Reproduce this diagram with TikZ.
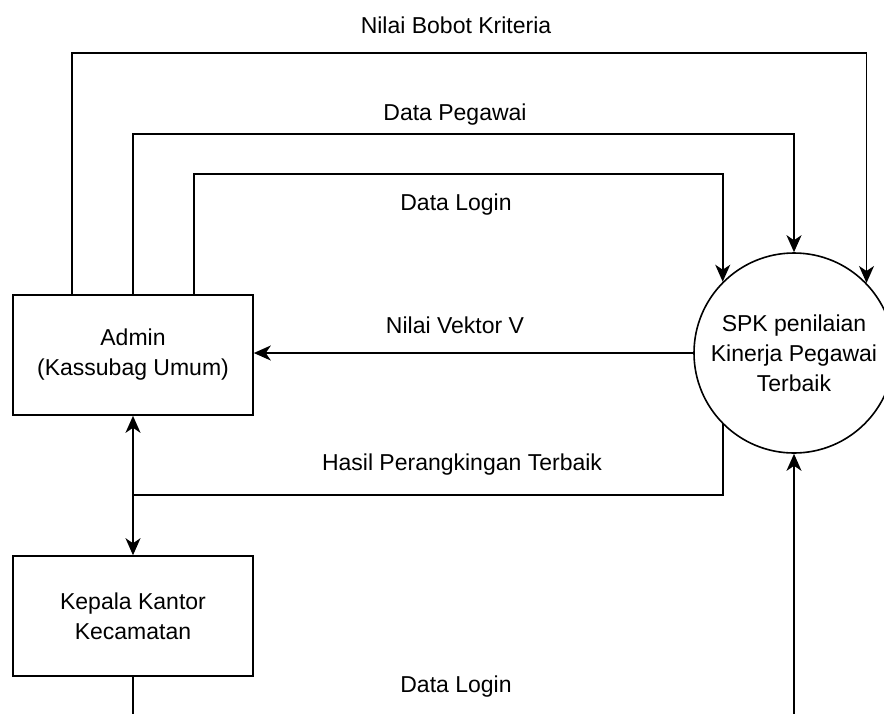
\documentclass[tikz,border=0pt]{standalone}
\usepackage{fontspec}
\setmainfont{Liberation Sans}
\usetikzlibrary{arrows.meta}
\begin{document}
\begin{tikzpicture}[x=1pt,y=-1pt,
  line width=1.6pt,
  every node/.style={font=\fontsize{23}{30}\selectfont},
  boxnode/.style={draw,rectangle,minimum width=240pt,minimum height=120pt,align=center,inner sep=0pt},
  procnode/.style={draw,circle,minimum size=200pt,align=center,inner sep=0pt},
  lbl/.style={inner sep=0pt},
  flow/.style={-{Stealth[length=17pt,width=15pt,inset=5pt]}}]
\useasboundingbox (0,0) rectangle (884,713);
\node[boxnode] (admin) at (133,355) {Admin\\(Kassubag Umum)};
\node[boxnode] (kepala) at (133,616) {Kepala Kantor\\Kecamatan};
\node[procnode] (spk) at (794,353) {SPK penilaian\\Kinerja Pegawai\\Terbaik};
% top flows
\coordinate (nb) at (72,53);
\coordinate (dp) at (133,134);
\coordinate (dl) at (194,174);
\draw[flow] (admin.north -| nb) |- (nb -| spk.44) -- (spk.44);
\draw[flow] (admin.north) |- (dp -| spk.north) -- (spk.north);
\draw[flow] (admin.north -| dl) |- (dl -| spk.135) -- (spk.135);
\draw[flow] (spk.west) -- (admin.east |- spk.west);
% result
\coordinate (j) at (133,495);
\draw (spk.225) |- (j);
\draw[flow] (j) -- (admin.south);
\draw[flow] (j) -- (kepala.north);
% bottom
\coordinate (b1) at (133,720);
\coordinate (b2) at (794,720);
\draw (kepala.south) -- (b1);
\draw[flow] (b2) -- (spk.south);
% labels
\node[lbl] (l1) at (456,25) {Nilai Bobot Kriteria};
\node[lbl] (l2) at (455,115) {Data Pegawai};
\node[lbl] (l3) at (456,205) {Data Login};
\node[lbl] (l4) at (455,325) {Nilai Vektor V};
\node[lbl] (l5) at (462,465) {Hasil Perangkingan Terbaik};
\node[lbl] (l6) at (456,687) {Data Login};
\end{tikzpicture}
\end{document}
